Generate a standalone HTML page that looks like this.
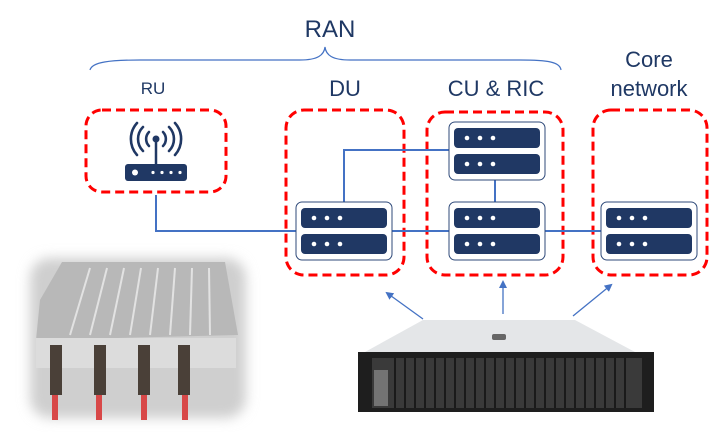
<!DOCTYPE html>
<html><head><meta charset="utf-8"><style>
body{margin:0;width:726px;height:432px;background:#fff;overflow:hidden;position:relative;font-family:"Liberation Sans",sans-serif;color:#1f3864}
.t{position:absolute;transform:translateX(-50%);white-space:nowrap;line-height:1}
</style></head><body>
<svg width="726" height="432" style="position:absolute;left:0;top:0">
<defs>
<marker id="ar" markerWidth="8" markerHeight="8" refX="6" refY="4" orient="auto" markerUnits="userSpaceOnUse"><path d="M0,0 L8,4 L0,8 z" fill="#4472c4"/></marker>
<g id="srv">
<rect x="0" y="0" width="96" height="58" rx="6" fill="#fff" stroke="#2f4a7a" stroke-width="1"/>
<rect x="5" y="6" width="86" height="20" rx="4" fill="#203864"/>
<rect x="5" y="32" width="86" height="20" rx="4" fill="#203864"/>
<circle cx="18" cy="16" r="2.3" fill="#fff"/><circle cx="31" cy="16" r="2.3" fill="#fff"/><circle cx="44" cy="16" r="2.3" fill="#fff"/>
<circle cx="18" cy="42" r="2.3" fill="#fff"/><circle cx="31" cy="42" r="2.3" fill="#fff"/><circle cx="44" cy="42" r="2.3" fill="#fff"/>
</g>
<linearGradient id="photo" x1="0" y1="0" x2="0" y2="1"><stop offset="0" stop-color="#c8c8c8"/><stop offset="1" stop-color="#e6e6e6"/></linearGradient>
<filter id="blur" x="-10%" y="-10%" width="120%" height="120%"><feGaussianBlur stdDeviation="6"/></filter>
</defs>
<!-- brace -->
<path d="M90,70 C92,62 110,60 140,60 L300,60 C318,60 324,55 325,47 C326,55 332,60 350,60 L520,60 C548,60 560,62 561,70" fill="none" stroke="#4472c4" stroke-width="1.2"/>
<!-- dashed boxes -->
<g fill="none" stroke="#ff0000" stroke-width="3" stroke-dasharray="9,5">
<rect x="86" y="110" width="140" height="82" rx="16"/>
<rect x="286" y="110" width="118" height="165" rx="18"/>
<rect x="427" y="112" width="136" height="163" rx="18"/>
<rect x="593" y="110" width="114" height="165" rx="18"/>
</g>
<!-- lines -->
<g stroke="#4472c4" stroke-width="2" fill="none">
<path d="M156,195 V231 H601"/>
<path d="M344,202 V150 H450"/>
<path d="M495,180 V202"/>
</g>
<use href="#srv" x="296" y="202"/>
<use href="#srv" x="449" y="122"/>
<use href="#srv" x="449" y="202"/>
<use href="#srv" x="601" y="202"/>
<!-- router icon -->
<g>
<rect x="125" y="164" width="62" height="17" rx="3" fill="#203864"/>
<circle cx="135" cy="172.5" r="3" fill="#fff"/>
<circle cx="153" cy="172.5" r="1.6" fill="#fff"/><circle cx="162" cy="172.5" r="1.6" fill="#fff"/><circle cx="171" cy="172.5" r="1.6" fill="#fff"/><circle cx="180" cy="172.5" r="1.6" fill="#fff"/>
<line x1="156" y1="140" x2="156" y2="164" stroke="#203864" stroke-width="2.5"/>
<circle cx="156" cy="139" r="3.5" fill="#203864"/>
<g fill="none" stroke="#203864" stroke-width="2.6" stroke-linecap="round">
<path d="M149,132 A10,10 0 0 0 149,146"/><path d="M163,132 A10,10 0 0 1 163,146"/>
<path d="M143,127 A17,17 0 0 0 143,151"/><path d="M169,127 A17,17 0 0 1 169,151"/>
<path d="M137,123 A24,24 0 0 0 137,155"/><path d="M175,123 A24,24 0 0 1 175,155"/>
</g>
</g>
<!-- arrows -->
<g stroke="#4472c4" stroke-width="1.3" marker-end="url(#ar)">
<line x1="423" y1="319" x2="387" y2="293"/>
<line x1="503" y1="314" x2="503" y2="282"/>
<line x1="573" y1="316" x2="611" y2="285"/>
</g>
<!-- radio photo -->
<g>
<rect x="30" y="258" width="216" height="160" rx="20" fill="#cfcfcf" filter="url(#blur)"/>
<path d="M40,300 L62,262 L225,262 L238,335 L36,340 z" fill="#b8b8b8"/>
<g stroke="#e2e2e2" stroke-width="2">
<line x1="70" y1="335" x2="90" y2="268"/><line x1="90" y1="335" x2="107" y2="268"/><line x1="110" y1="335" x2="124" y2="268"/><line x1="130" y1="335" x2="141" y2="268"/><line x1="150" y1="335" x2="158" y2="268"/><line x1="170" y1="335" x2="175" y2="268"/><line x1="190" y1="335" x2="192" y2="268"/><line x1="210" y1="335" x2="209" y2="268"/>
</g>
<rect x="36" y="338" width="200" height="30" fill="#dcdcdc"/>
<g fill="#4a4038">
<rect x="50" y="345" width="12" height="50"/><rect x="94" y="345" width="12" height="50"/><rect x="138" y="345" width="12" height="50"/><rect x="178" y="345" width="12" height="50"/>
</g>
<g fill="#d84848"><rect x="52" y="395" width="6" height="25"/><rect x="96" y="395" width="6" height="25"/><rect x="141" y="395" width="6" height="25"/><rect x="182" y="395" width="6" height="25"/></g>
</g>
<!-- server photo -->
<g>
<path d="M423,320 L575,320 L635,352 L365,352 z" fill="#e4e6e8"/>
<rect x="492" y="334" width="14" height="6" rx="2" fill="#666"/>
<rect x="358" y="352" width="296" height="60" fill="#1e1e1e"/>
<rect x="372" y="358" width="270" height="50" fill="#3a3a3a"/>
<g stroke="#1a1a1a" stroke-width="2">
<line x1="395" y1="358" x2="395" y2="408"/><line x1="405" y1="358" x2="405" y2="408"/><line x1="415" y1="358" x2="415" y2="408"/><line x1="425" y1="358" x2="425" y2="408"/><line x1="435" y1="358" x2="435" y2="408"/><line x1="445" y1="358" x2="445" y2="408"/><line x1="455" y1="358" x2="455" y2="408"/><line x1="465" y1="358" x2="465" y2="408"/><line x1="475" y1="358" x2="475" y2="408"/><line x1="485" y1="358" x2="485" y2="408"/><line x1="495" y1="358" x2="495" y2="408"/><line x1="505" y1="358" x2="505" y2="408"/><line x1="515" y1="358" x2="515" y2="408"/><line x1="525" y1="358" x2="525" y2="408"/><line x1="535" y1="358" x2="535" y2="408"/><line x1="545" y1="358" x2="545" y2="408"/><line x1="555" y1="358" x2="555" y2="408"/><line x1="565" y1="358" x2="565" y2="408"/><line x1="575" y1="358" x2="575" y2="408"/><line x1="585" y1="358" x2="585" y2="408"/><line x1="595" y1="358" x2="595" y2="408"/><line x1="605" y1="358" x2="605" y2="408"/><line x1="615" y1="358" x2="615" y2="408"/><line x1="625" y1="358" x2="625" y2="408"/>
</g>
<rect x="374" y="370" width="14" height="36" fill="#9a9a9a" opacity="0.6"/>
</g>
</svg>
<div class="t" style="left:330px;top:18px;font-size:24px">RAN</div>
<div class="t" style="left:153px;top:80px;font-size:17px">RU</div>
<div class="t" style="left:345px;top:78px;font-size:22px">DU</div>
<div class="t" style="left:496px;top:78px;font-size:22px">CU &amp; RIC</div>
<div class="t" style="left:649px;top:49px;font-size:22px">Core</div>
<div class="t" style="left:649px;top:78px;font-size:22px">network</div>
</body></html>
